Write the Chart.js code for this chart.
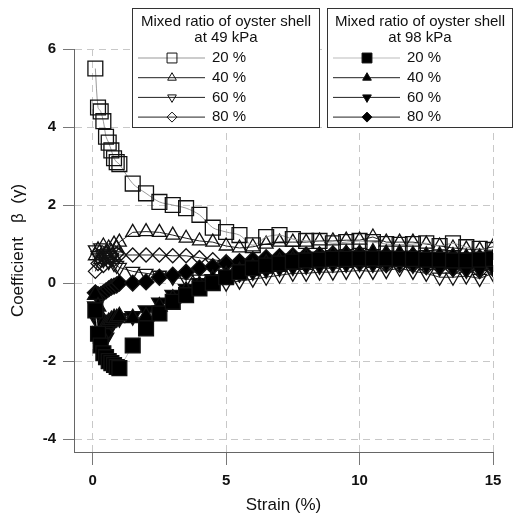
<!DOCTYPE html>
<html>
<head>
<meta charset="utf-8">
<script src="https://cdn.jsdelivr.net/npm/chart.js@4.4.1/dist/chart.umd.min.js"></script>
<style>
  html, body { margin: 0; padding: 0; background: #fff; }
  #wrap { width: 514px; height: 516px; }
</style>
</head>
<body>
<div id="wrap"><canvas id="chart" width="514" height="516"></canvas></div>
<script>
const strain = [0.1, 0.2, 0.3, 0.4, 0.5, 0.6, 0.7, 0.8, 0.9, 1.0,
  1.5, 2.0, 2.5, 3.0, 3.5, 4.0, 4.5, 5.0, 5.5, 6.0, 6.5, 7.0, 7.5, 8.0, 8.5,
  9.0, 9.5, 10.0, 10.5, 11.0, 11.5, 12.0, 12.5, 13.0, 13.5, 14.0, 14.5, 15.0];

const xTicks = [0, 5, 10, 15];
const yTicks = [-4, -2, 0, 2, 4, 6];
const ratioLabels = ["20 %", "40 %", "60 %", "80 %"];

// 49 kPa (open markers)
const beta49_20 = [5.5, 4.5, 4.4, 4.15, 3.75, 3.6, 3.4, 3.2, 3.1, 3.05,
  2.55, 2.3, 2.08, 2.0, 1.92, 1.75, 1.42, 1.31, 1.23, 0.97, 1.18, 1.23, 1.13, 1.08, 1.08,
  1.02, 1.05, 1.08, 1.05, 1.0, 0.98, 1.0, 1.02, 0.95, 1.02, 0.92, 0.88, 0.85];
const beta49_40 = [0.7, 0.85, 0.6, 0.95, 0.75, 0.9, 0.8, 1.0, 0.9, 1.05,
  1.3, 1.32, 1.3, 1.23, 1.15, 1.08, 1.05, 0.95, 0.9, 0.93, 1.0, 1.05, 1.05, 1.05, 1.08,
  1.08, 1.1, 1.1, 1.18, 1.05, 1.05, 1.05, 1.0, 0.95, 0.9, 0.87, 0.85, 0.93];
const beta49_60 = [0.85, 0.7, 0.9, 0.6, 0.75, 0.55, 0.65, 0.5, 0.45, 0.4,
  0.3, 0.25, 0.2, 0.15, 0.1, 0.1, 0.05, 0.0, 0.05, 0.1, 0.15, 0.2, 0.25, 0.25, 0.28,
  0.28, 0.3, 0.32, 0.3, 0.32, 0.38, 0.3, 0.25, 0.15, 0.15, 0.18, 0.12, 0.25];
const beta49_80 = [0.3, 0.5, 0.6, 0.45, 0.65, 0.55, 0.7, 0.6, 0.75, 0.72,
  0.72, 0.72, 0.72, 0.7, 0.7, 0.65, 0.6, 0.55, 0.5, 0.5, 0.45, 0.45, 0.45, 0.45, 0.5,
  0.5, 0.5, 0.5, 0.5, 0.45, 0.45, 0.45, 0.4, 0.4, 0.35, 0.35, 0.3, 0.35];

// 98 kPa (filled markers)
const beta98_20 = [-0.7, -1.3, -1.6, -1.8, -1.9, -2.0, -2.05, -2.1, -2.15, -2.18,
  -1.6, -1.16, -0.78, -0.48, -0.31, -0.14, 0.0, 0.15, 0.28, 0.38, 0.45, 0.5, 0.55, 0.58, 0.6,
  0.62, 0.62, 0.63, 0.63, 0.63, 0.62, 0.62, 0.6, 0.6, 0.58, 0.58, 0.6, 0.62];
const beta98_40 = [-0.3, -0.6, -0.85, -1.0, -1.05, -1.0, -0.95, -0.9, -0.9, -0.85,
  -0.9, -0.85, -0.6, -0.4, -0.2, -0.05, 0.1, 0.2, 0.3, 0.4, 0.5, 0.55, 0.6, 0.65, 0.7,
  0.72, 0.75, 0.75, 0.78, 0.75, 0.75, 0.72, 0.7, 0.7, 0.68, 0.65, 0.65, 0.62];
const beta98_60 = [-0.6, -1.0, -1.3, -1.5, -1.4, -1.2, -1.0, -0.95, -0.9, -0.9,
  -0.85, -0.7, -0.5, -0.3, -0.15, 0.0, 0.1, 0.2, 0.25, 0.3, 0.35, 0.4, 0.42, 0.45, 0.45,
  0.5, 0.5, 0.52, 0.5, 0.5, 0.52, 0.48, 0.45, 0.4, 0.38, 0.35, 0.35, 0.4];
const beta98_80 = [-0.25, -0.3, -0.3, -0.25, -0.2, -0.15, -0.1, -0.08, -0.05, 0.0,
  0.0, 0.03, 0.15, 0.2, 0.28, 0.38, 0.42, 0.5, 0.55, 0.6, 0.65, 0.68, 0.7, 0.72, 0.72,
  0.75, 0.75, 0.75, 0.72, 0.72, 0.7, 0.7, 0.68, 0.65, 0.65, 0.62, 0.6, 0.58];

Chart.defaults.font.family = '"Liberation Sans", Arial, sans-serif';
Chart.defaults.color = "#111";

function toPoints(arr) {
  return strain.map((x, i) => ({ x: x, y: arr[i] }));
}

// marker per ratio: square, triangle, inverted triangle, diamond
const shapes = [
  { style: "rect", rot: 0, r: 10.5, lr: 7 },
  { style: "triangle", rot: 0, r: 8, lr: 5 },
  { style: "triangle", rot: 180, r: 8, lr: 5 },
  { style: "rectRot", rot: 0, r: 7, lr: 5 }
];

function makeSet(arr, k, group) {
  const s = shapes[k];
  const filled = group === "98";
  const lineCol = k === 0 ? (filled ? "#bbbbbb" : "#999999") : "#222";
  return {
    label: ratioLabels[k],
    group: group,
    data: toPoints(arr),
    showLine: true,
    tension: k === 0 ? 0.3 : 0,
    borderColor: lineCol,
    borderWidth: 1,
    pointStyle: s.style,
    rotation: s.rot,
    pointRadius: filled && k > 0 ? s.r + 1 : s.r,
    legendRadius: s.lr,
    pointBorderColor: "#111",
    pointBorderWidth: 1.3,
    pointBackgroundColor: filled ? "#000" : "rgba(0,0,0,0)",
    markerFill: filled ? "#000" : "rgba(0,0,0,0)"
  };
}

const datasets = [
  makeSet(beta98_20, 0, "98"),
  makeSet(beta98_40, 1, "98"),
  makeSet(beta98_60, 2, "98"),
  makeSet(beta98_80, 3, "98"),
  makeSet(beta49_20, 0, "49"),
  makeSet(beta49_40, 1, "49"),
  makeSet(beta49_60, 2, "49"),
  makeSet(beta49_80, 3, "49")
];

// two boxed legends at the top
const boxLegends = {
  id: "boxLegends",
  afterDraw(chart) {
    const ctx = chart.ctx;
    const boxes = [
      { left: 132, right: 320, sub: "at 49 kPa", group: "49" },
      { left: 327, right: 513, sub: "at 98 kPa", group: "98" }
    ];
    ctx.save();
    boxes.forEach(b => {
      ctx.fillStyle = "#fff";
      ctx.fillRect(b.left, 8, b.right - b.left, 120);
      ctx.strokeStyle = "#333";
      ctx.lineWidth = 1;
      ctx.strokeRect(b.left + 0.5, 8.5, b.right - b.left - 1, 119);

      const cx = (b.left + b.right) / 2;
      ctx.fillStyle = "#111";
      ctx.font = '15px "Liberation Sans", Arial, sans-serif';
      ctx.textAlign = "center";
      ctx.textBaseline = "middle";
      ctx.fillText("Mixed ratio of oyster shell", cx, 22);
      ctx.fillText(b.sub, cx, 38);

      const sets = chart.data.datasets.filter(d => d.group === b.group);
      sets.forEach((d, i) => {
        const y = 58 + i * 19.7;
        ctx.strokeStyle = d.borderColor;
        ctx.lineWidth = 1;
        ctx.beginPath();
        ctx.moveTo(b.left + 6, y);
        ctx.lineTo(b.left + 73, y);
        ctx.stroke();

        ctx.fillStyle = d.markerFill;
        ctx.strokeStyle = "#111";
        ctx.lineWidth = 1;
        Chart.helpers.drawPoint(ctx, {
          pointStyle: d.pointStyle,
          rotation: d.rotation,
          radius: d.legendRadius,
          borderWidth: 1
        }, b.left + 40, y);

        ctx.fillStyle = "#111";
        ctx.textAlign = "left";
        ctx.fillText(d.label, b.left + 80, y);
      });
    });
    ctx.restore();
  }
};

new Chart(document.getElementById("chart"), {
  type: "scatter",
  data: { datasets: datasets },
  options: {
    responsive: false,
    animation: false,
    devicePixelRatio: 1,
    layout: { padding: { left: 8, top: 49, right: 21, bottom: 0 } },
    plugins: { legend: { display: false }, tooltip: { enabled: false } },
    scales: {
      x: {
        type: "linear",
        min: -0.7,
        max: 15,
        afterBuildTicks: s => { s.ticks = xTicks.map(v => ({ value: v })); },
        afterFit: s => { s.height = 64; },
        grid: { color: "#c8c8c8", tickColor: "#777", tickLength: 13, tickBorderDash: [] },
        border: { display: true, color: "#666", width: 1, dash: [7, 5] },
        ticks: { font: { size: 15, weight: "bold" }, color: "#111", padding: 7, maxRotation: 0 },
        title: { display: true, text: "Strain (%)", font: { size: 17 }, color: "#111", padding: 0 }
      },
      y: {
        type: "linear",
        min: -4.33,
        max: 6,
        afterBuildTicks: s => { s.ticks = yTicks.map(v => ({ value: v })); },
        afterFit: s => { s.width = 66; },
        grid: { color: "#c8c8c8", tickColor: "#777", tickLength: 11, tickBorderDash: [] },
        border: { display: true, color: "#666", width: 1, dash: [7, 5] },
        ticks: { font: { size: 15, weight: "bold" }, color: "#111", padding: 7 },
        title: { display: true, text: "Coefficient   β  (γ)", font: { size: 17 }, color: "#111", padding: 0 }
      }
    }
  },
  plugins: [boxLegends]
});
</script>
</body>
</html>
